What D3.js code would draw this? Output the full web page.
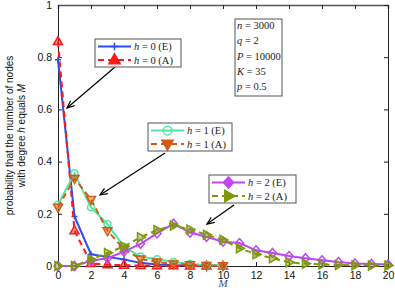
<!DOCTYPE html>
<html>
<head>
<meta charset="utf-8">
<script src="https://cdn.jsdelivr.net/npm/d3@7"></script>
<style>
  body { margin:0; background:#fff; }
  svg { display:block; }
</style>
</head>
<body>
<div id="chart"></div>
<script>
// degree M
const M = d3.range(0, 21)
// probability values
const h0E = [0.79,0.19,0.045,0.035,0.025,0.012,0.006,0.003,0.002,0.001,0.001]
const h0A = [0.86,0.135,0.01,0.005,0.003,0.002,0.001,0.001,0.0,0.0,0.0]
const h1E = [0.235,0.355,0.225,0.16,0.073,0.036,0.026,0.015,0.008,0.004,0.002]
const h1A = [0.225,0.335,0.255,0.135,0.065,0.027,0.015,0.008,0.005,0.002,0.001]
const h2E = [0,0,0.02,0.03,0.055,0.085,0.125,0.162,0.128,0.112,0.093,0.088,0.06,0.05,0.038,0.03,0.022,0.015,0.01,0.008,0.006]
const h2A = [0,0,0.025,0.05,0.075,0.11,0.138,0.155,0.14,0.12,0.1,0.068,0.045,0.03,0.014,0.009,0.006,0.004,0.003,0.002,0.002]
const xTicks = [0,2,4,6,8,10,12,14,16,18,20]
const yTicks = [0,0.2,0.4,0.6,0.8,1]
const params = ["n = 3000","q = 2","P = 10000","K = 35","p = 0.5"]

const series = [
  {name:"h = 0 (E)", v:h0E, color:"#2b4df2", dash:null, marker:"plus"},
  {name:"h = 0 (A)", v:h0A, color:"#ff1a1a", dash:"6,4", marker:"tri"},
  {name:"h = 1 (E)", v:h1E, color:"#52e6a3", dash:null, marker:"circle"},
  {name:"h = 1 (A)", v:h1A, color:"#d35a12", dash:"6,4", marker:"tridown"},
  {name:"h = 2 (E)", v:h2E, color:"#bf45f5", dash:null, marker:"diamond"},
  {name:"h = 2 (A)", v:h2A, color:"#7c9a08", dash:"6,4", marker:"triright"}
]

let width = 395, height = 292,
    margin = {top:5, left:58, right:7, bottom:26},
    innerWidth = width - margin.left - margin.right,
    innerHeight = height - margin.top - margin.bottom

let xScale = d3.scaleLinear().domain([0,20]).range([0,innerWidth])
let yScale = d3.scaleLinear().domain([0,1]).range([innerHeight,0])

let svg = d3.select("#chart").append("svg").attr("width",width).attr("height",height)
let g = svg.append("g").attr("transform",`translate(${margin.left},${margin.top})`)

// axes (MATLAB style box, ticks inside)
let xAxis = d3.axisBottom(xScale).tickValues(xTicks).tickSize(-4).tickPadding(6)
let yAxis = d3.axisLeft(yScale).tickValues(yTicks).tickSize(-4).tickPadding(6).tickFormat(d3.format("~g"))
g.append("g").attr("transform",`translate(0,${innerHeight})`).call(xAxis)
g.append("g").call(yAxis)
g.append("g").attr("class","top").call(d3.axisTop(xScale).tickValues(xTicks).tickSize(-4).tickFormat(""))
g.append("g").attr("transform",`translate(${innerWidth},0)`).call(d3.axisRight(yScale).tickValues(yTicks).tickSize(-4).tickFormat(""))
g.selectAll(".domain").attr("stroke","#222")
g.select(".top .domain").attr("stroke","#555").attr("stroke-width",1.5)
g.selectAll(".tick line").attr("stroke","#222")
g.selectAll(".tick text").attr("font-family","Liberation Sans, Arial").attr("font-size",10.5).attr("fill","#111")

// markers
function drawMarker(sel, type, color, cx, cy, big){
  const s = big ? 1.25 : 1
  if(type=="plus"){
    sel.append("path").attr("d",`M${cx-3*s},${cy}H${cx+3*s}M${cx},${cy-3*s}V${cy+3*s}`)
      .attr("stroke",color).attr("stroke-width",1.5)
  } else if(type=="circle"){
    sel.append("circle").attr("cx",cx).attr("cy",cy).attr("r",3.5*s)
      .attr("fill","none").attr("stroke",color).attr("stroke-width",1.5)
  } else {
    const r = 5*s
    let pts
    if(type=="tri") pts = [[0,-r],[r*0.9,r*0.6],[-r*0.9,r*0.6]]
    if(type=="tridown") pts = [[0,r],[r*0.9,-r*0.6],[-r*0.9,-r*0.6]]
    if(type=="triright") pts = [[r,0],[-r*0.6,r*0.9],[-r*0.6,-r*0.9]]
    if(type=="diamond") pts = [[0,-4.5*s],[4*s,0],[0,4.5*s],[-4*s,0]]
    sel.append("path").attr("d","M"+pts.map(p=>[cx+p[0],cy+p[1]].join(",")).join("L")+"Z")
      .attr("fill", big ? color : (type=="diamond" ? "none" : color))
      .attr("fill-opacity", big ? 1 : 0.45)
      .attr("stroke",color).attr("stroke-width",1.5)
  }
}

let line = d3.line().x((d,i)=>xScale(i)).y(d=>yScale(d))
let plot = g.append("g")
series.forEach(s=>{
  plot.append("path").datum(s.v).attr("d",line).attr("fill","none")
    .attr("stroke",s.color).attr("stroke-width",2).attr("stroke-dasharray",s.dash)
  let mg = plot.append("g")
  s.v.forEach((v,i)=> drawMarker(mg, s.marker, s.color, xScale(M[i]), yScale(v), false))
})

// axis labels
svg.append("text").attr("x",margin.left+xScale(10)).attr("y",287).attr("text-anchor","middle")
  .attr("font-family","Liberation Serif, Times New Roman").attr("font-style","italic")
  .attr("font-size",11).attr("fill","#3c5078").text("M")
let yl = svg.append("text").attr("transform",`translate(13,${margin.top+innerHeight/2}) rotate(-90)`)
  .attr("text-anchor","middle").attr("font-family","Liberation Sans, Arial").attr("font-size",10).attr("fill","#111")
yl.append("tspan").attr("x",0).attr("dy",0).text("probability that the number of nodes")
let t2 = yl.append("tspan").attr("x",0).attr("dy",12).text("with degree ")
t2.append("tspan").attr("font-style","italic").text("h")
yl.append("tspan").text(" equals ")
yl.append("tspan").attr("font-style","italic").text("M")

// legends with arrows
function arrow(x1,y1,x2,y2){
  const a = Math.atan2(y2-y1,x2-x1), L = 8, w = 0.4
  svg.append("line").attr("x1",x1).attr("y1",y1).attr("x2",x2).attr("y2",y2).attr("stroke","#000").attr("stroke-width",1.2)
  const p1 = [x2-L*Math.cos(a-w), y2-L*Math.sin(a-w)], p2 = [x2-L*Math.cos(a+w), y2-L*Math.sin(a+w)]
  svg.append("path").attr("d",`M${p1}L${x2},${y2}L${p2}`).attr("fill","none").attr("stroke","#000").attr("stroke-width",1.2)
}
function legend(x, y, w, items){
  let lg = svg.append("g")
  lg.append("rect").attr("x",x).attr("y",y).attr("width",w).attr("height",28)
    .attr("fill","#fff").attr("stroke","#555").attr("stroke-width",1)
  items.forEach((s,k)=>{
    const ly = y + 7.5 + k*13.5
    lg.append("line").attr("x1",x+3).attr("x2",x+36).attr("y1",ly).attr("y2",ly)
      .attr("stroke",s.color).attr("stroke-width",2).attr("stroke-dasharray",s.dash)
    drawMarker(lg, s.marker, s.color, x+19.5, ly, true)
    const parts = s.name.split(" ")
    let t = lg.append("text").attr("x",x+39).attr("y",ly+3.5).attr("font-family","Liberation Serif, Times New Roman")
      .attr("font-size",10.5).attr("fill","#222")
    t.append("tspan").attr("font-style","italic").text(parts[0])
    t.append("tspan").text(" = " + parts[2] + " " + parts[3])
  })
}
arrow(115,67,67,108)
arrow(165,153,100,195)
arrow(234,205,207,224)
legend(95,39,86,series.slice(0,2))
legend(148,123,84,series.slice(2,4))
legend(209,175,87,series.slice(4,6))

// parameter box
let pb = svg.append("g")
pb.append("rect").attr("x",235).attr("y",19).attr("width",47).attr("height",77)
  .attr("fill","#fff").attr("stroke","#555")
params.forEach((p,i)=>{
  const parts = p.split(" = ")
  let t = pb.append("text").attr("x",237).attr("y",29+i*15.3)
    .attr("font-family","Liberation Serif, Times New Roman").attr("font-size",10.5).attr("fill","#222")
  t.append("tspan").attr("font-style","italic").text(parts[0])
  t.append("tspan").text(" = " + parts[1])
})
</script>
</body>
</html>
